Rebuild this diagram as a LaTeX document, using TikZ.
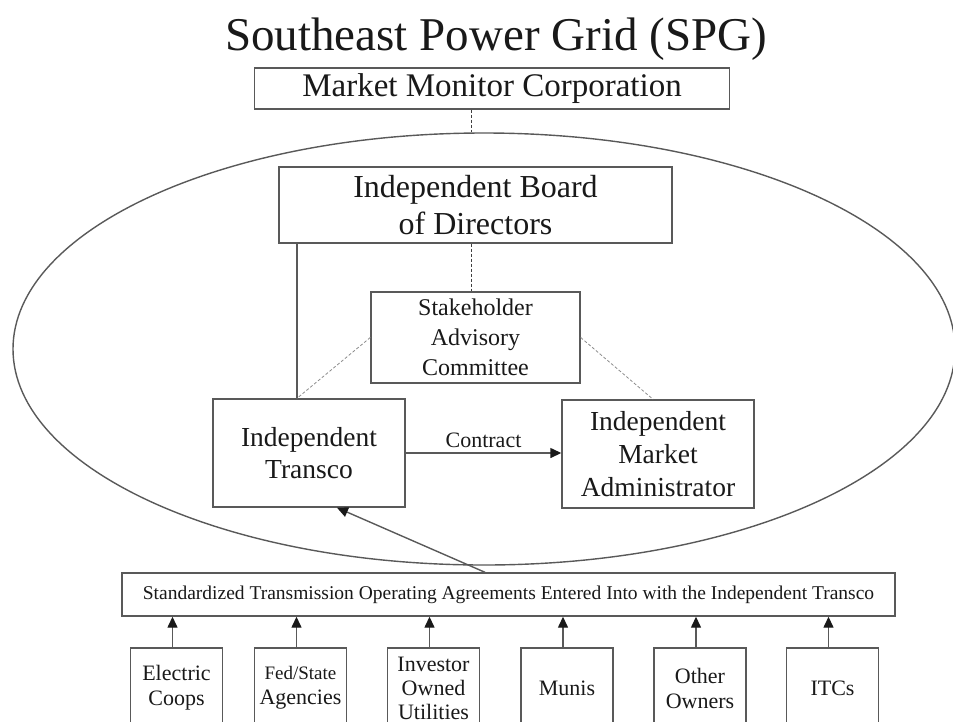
\documentclass[tikz,border=0pt]{standalone}
\usepackage{fontspec}
\setmainfont{Liberation Serif}
\usetikzlibrary{shapes.geometric,arrows.meta,calc}
\begin{document}
\begin{tikzpicture}[x=1pt,y=-1pt,
  ln/.style={draw=black!65, line width=1.4pt},
  box/.style={ln, rectangle, fill=white, inner sep=0pt, align=center, text=black!90},
  dsh/.style={draw=black!75, line width=1pt, dash pattern=on 3pt off 2pt},
  ldsh/.style={draw=black!45, line width=0.8pt, dash pattern=on 3pt off 2pt},
  arr/.style={ln, -{Triangle[length=11pt,width=10pt,fill=black!90,color=black!90]}},
  bbox/.style={box, minimum width=92, minimum height=80, font=\fontsize{22}{25}\selectfont}
]
\useasboundingbox (0,0) rectangle (953,721);
\clip (0,0) rectangle (953,721);

\node[anchor=base, font=\fontsize{47}{50}\selectfont, text=black!90] (title) at (496,50) {Southeast Power Grid (SPG)};
\node[box, minimum width=475, minimum height=41, font=\fontsize{33}{36}\selectfont] (mm) at (492,88.5) {Market Monitor Corporation};

\node[ellipse, ln, minimum width=942, minimum height=432, inner sep=0pt] (ell) at (484,349) {};

\node[box, minimum width=393, minimum height=76, font=\fontsize{32}{37}\selectfont] (board) at (475.5,205) {Independent Board\\of Directors};
\node[box, minimum width=209, minimum height=91, font=\fontsize{24}{30}\selectfont] (sac) at (475.5,337.5) {Stakeholder\\Advisory\\Committee};
\node[box, minimum width=192, minimum height=108, font=\fontsize{27.5}{32}\selectfont] (tr) at (309,453) {Independent\\Transco};
\node[box, minimum width=192, minimum height=108, font=\fontsize{27.5}{33}\selectfont] (adm) at (658,454) {Independent\\Market\\Administrator};

\node[box, minimum width=773, minimum height=43, font=\fontsize{19.5}{22}\selectfont] (std) at (508.5,594.5) {Standardized Transmission Operating Agreements Entered Into with the Independent Transco};

\node[bbox] (b1) at (176.5,688) {Electric\\Coops};
\node[bbox] (b2) at (300.5,688) {{\fontsize{19}{25}\selectfont Fed/State}\\Agencies};
\node[bbox, font=\fontsize{22}{24}\selectfont] (b3) at (433.5,688) {Investor\\Owned\\Utilities};
\node[bbox] (b4) at (567,688) {Munis};
\node[bbox] (b5) at (700,688) {Other\\Owners};
\node[bbox] (b6) at (832.5,688) {ITCs};

\coordinate (dx) at (471,0);
\coordinate (lx) at (297,0);
\coordinate (rx) at (653,0);
\coordinate (ax) at (485,0);
\coordinate (ex) at (337,0);

\draw[dsh] (mm.south -| dx) -- (ell.north -| dx);
\draw[dsh] (board.south -| dx) -- (sac.north -| dx);
\draw[ln] (board.south -| lx) -- (tr.north -| lx);
\draw[ldsh] (sac.west) -- (tr.north -| lx);
\draw[ldsh] (sac.east) -- (adm.north -| rx);
\draw[arr] (tr.east) -- node[above, font=\fontsize{22}{24}\selectfont, inner sep=5pt, text=black!90] {Contract} (tr.east -| adm.west);
\draw[arr] (std.north -| ax) -- (tr.south -| ex);
\foreach \b in {b1,b2,b3,b4,b5,b6}{
  \draw[arr] ($(\b.north)+(-4,0)$) -- ($(\b.north |- std.south)+(-4,0)$);
}
\end{tikzpicture}
\end{document}
